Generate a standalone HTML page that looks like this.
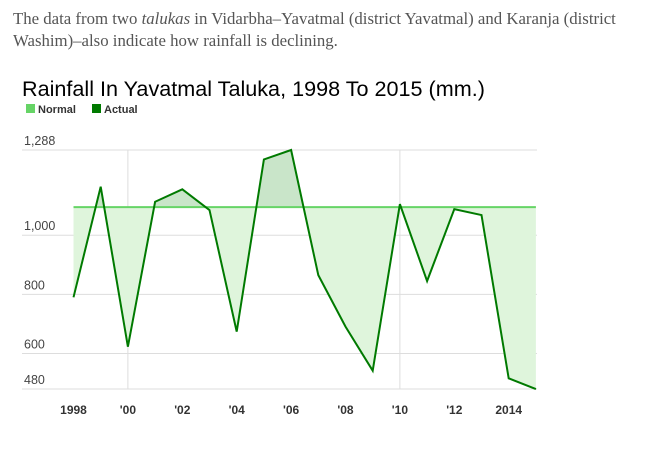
<!DOCTYPE html>
<html><head><meta charset="utf-8"><style>
body{margin:0;background:#fff;width:657px;height:464px;overflow:hidden;position:relative;font-family:"Liberation Sans",Arial,sans-serif}
.p{position:absolute;left:13px;top:8px;width:640px;font-family:"Liberation Serif",serif;font-size:16.8px;line-height:22px;color:#555}
</style></head><body>
<div class="p">The data from two <i>talukas</i> in Vidarbha–Yavatmal (district Yavatmal) and Karanja (district Washim)–also indicate how rainfall is declining.</div>
<svg width="657" height="464" style="position:absolute;left:0;top:0" id="chart">
<text x="22" y="96" font-size="21.6" fill="#000">Rainfall In Yavatmal Taluka, 1998 To 2015 (mm.)</text>
<g>
<rect x="26" y="104" width="9" height="9" fill="#66d466"/>
<text x="38" y="113" font-size="11" font-weight="bold" fill="#333">Normal</text>
<rect x="92" y="104" width="9" height="9" fill="#007a00"/>
<text x="104" y="113" font-size="11" font-weight="bold" fill="#333">Actual</text>
</g>
<g id="grid"></g><g id="fills"></g><g id="lines"></g><g id="labels"></g>
</svg>
<script>
const years=[1998,1999,2000,2001,2002,2003,2004,2005,2006,2007,2008,2009,2010,2011,2012,2013,2014,2015];
const actual=[790,1164,623,1113,1155,1085,674,1256,1288,865,691,542,1105,845,1088,1068,516,480];
const normal=1095;
const yTicks=[1288,1000,800,600,480];
const xTickYears=[1998,2000,2002,2004,2006,2008,2010,2012,2014];
const xTickLabels=["1998","'00","'02","'04","'06","'08","'10","'12","2014"];
const NS="http://www.w3.org/2000/svg";
const x=v=>73.5+(v-1998)*27.2;
const y=v=>150+(1288-v)*0.2958;
function mk(tag,attrs,parent){const e=document.createElementNS(NS,tag);for(const k in attrs)e.setAttribute(k,attrs[k]);document.getElementById(parent).appendChild(e);return e;}
const grid='grid';
yTicks.forEach(t=>{
 const l=mk('line',{x1:22,x2:537,y1:y(t),y2:y(t),stroke:'#ddd','stroke-width':1},grid);
 
 
 const tx=mk('text',{x:24,y:y(t)-5,'font-size':12.5,fill:'#444'},'labels');
 tx.textContent=t.toLocaleString('en-US');
 
 
});
[2000,2010].forEach(v=>{
 const l=mk('line',{x1:x(v),x2:x(v),y1:150,y2:389,stroke:'#ddd','stroke-width':1},grid);
 
 
});
xTickYears.forEach((v,i)=>{
 const tx=mk('text',{x:x(v),y:414,'font-size':12,'font-weight':'bold',fill:'#333','text-anchor':'middle'},'labels');
 tx.textContent=xTickLabels[i];
 
 
});
const defs=mk('defs',{},'fills');
const c1=document.createElementNS(NS,'clipPath');c1.setAttribute('id','above');defs.appendChild(c1);
const r1=document.createElementNS(NS,'rect');r1.setAttribute('x',0);r1.setAttribute('y',0);r1.setAttribute('width',657);r1.setAttribute('height',y(normal));c1.appendChild(r1);
const c2=document.createElementNS(NS,'clipPath');c2.setAttribute('id','below');defs.appendChild(c2);
const r2=document.createElementNS(NS,'rect');r2.setAttribute('x',0);r2.setAttribute('y',y(normal));r2.setAttribute('width',657);r2.setAttribute('height',300);c2.appendChild(r2);
let pts=years.map((v,i)=>x(v)+','+y(actual[i])).join(' ');
const poly=pts+' '+x(years[years.length-1])+','+y(normal)+' '+x(years[0])+','+y(normal);
const fa=mk('polygon',{points:poly,fill:'#c9e5c9','clip-path':'url(#above)'},'fills');


const fb=mk('polygon',{points:poly,fill:'#dff5dc','clip-path':'url(#below)'},'fills');


const nl=mk('line',{x1:x(years[0]),x2:x(years[years.length-1]),y1:y(normal),y2:y(normal),stroke:'#66d466','stroke-width':2},'lines');


const al=mk('polyline',{points:pts,fill:'none',stroke:'#007a00','stroke-width':2},'lines');


</script>
</body></html>
